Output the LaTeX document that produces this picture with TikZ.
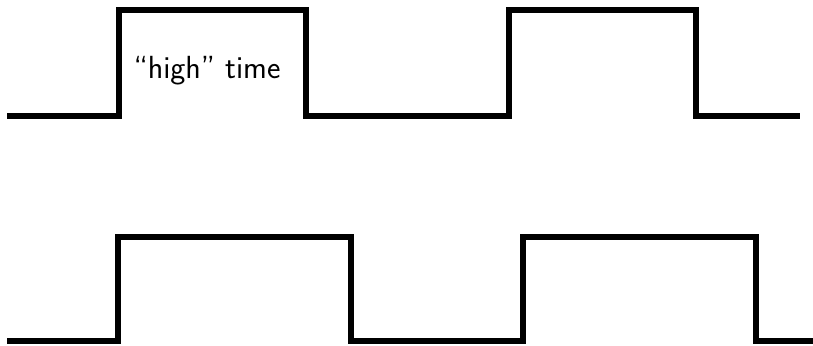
\documentclass[tikz,border=0pt]{standalone}
\begin{document}
\begin{tikzpicture}[x=1pt,y=-1pt,
  wave/.style={line width=6pt, line join=miter, line cap=butt, black},
  lbl/.style={font=\sffamily\fontsize{32}{38}\selectfont, inner sep=0pt}]
\useasboundingbox (0,0) rectangle (813,345);
% top row
\draw[wave] (7,116) -- (119,116) -- (119,10.5) -- (306,10.5) -- (306,116) -- (402,116);
\draw[wave] (397,116) -- (509,116) -- (509,10.5) -- (696,10.5) -- (696,116) -- (800,116);
% bottom row
\draw[wave] (7,341) -- (118,341) -- (118,236.5) -- (351,236.5) -- (351,341) -- (410,341);
\draw[wave] (410,341) -- (523,341) -- (523,236.5) -- (756,236.5) -- (756,341) -- (813,341);
\node[lbl] (hightime) at (207,71) {``high'' time};
\end{tikzpicture}
\end{document}
